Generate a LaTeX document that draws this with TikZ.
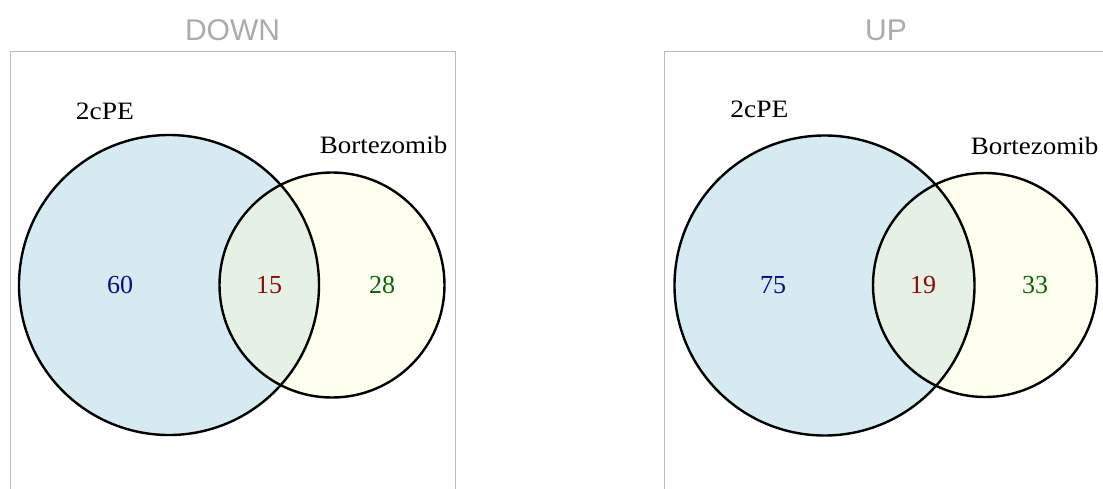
\documentclass[tikz,border=0pt]{standalone}
\usepackage{fontspec}
\setmainfont{Liberation Serif}
\newfontfamily\titlefont{Liberation Sans}
\definecolor{frame}{HTML}{BDBDBD}
\definecolor{titlegray}{HTML}{ABABAB}
\definecolor{setA}{HTML}{D6EAF1}
\definecolor{setB}{HTML}{FEFFEE}
\definecolor{setAB}{HTML}{E6F1E6}
\definecolor{numA}{HTML}{0A0A8C}
\definecolor{numAB}{HTML}{8B0A0A}
\definecolor{numB}{HTML}{0A660A}
\tikzset{
  paneltitle/.style={font=\titlefont\fontsize{30}{30}\selectfont, text=titlegray, anchor=base, inner sep=0pt},
  setlabel/.style={font=\fontsize{25}{25}\selectfont, anchor=base, inner sep=0pt},
  count/.style={font=\fontsize{26}{26}\selectfont, anchor=base, inner sep=0pt},
  panelframe/.style={draw=frame, line width=1pt},
  outline/.style={draw=black, line width=2.4pt},
}
\begin{document}
\begin{tikzpicture}[x=1pt,y=-1pt]
\useasboundingbox (0,0) rectangle (1103,488);
\clip (0,0) rectangle (1103,488);

% panel frames (open at the bottom edge)
\draw[panelframe] (10,500) -- (10,51) -- (455,51) -- (455,500);
\draw[panelframe] (664,500) -- (664,51) -- (1110,51);

\node[paneltitle] (tdown) at (232.5,40) {DOWN};
\node[paneltitle] (tup) at (886,40) {UP};

% ---- DOWN panel ----
\fill[setA] (169,285) circle[radius=150];
\fill[setB] (332,285) circle[radius=112.5];
\begin{scope}
  \clip (169,285) circle[radius=150];
  \fill[setAB] (332,285) circle[radius=112.5];
\end{scope}
\draw[outline] (169,285) circle[radius=150];
\draw[outline] (332,285) circle[radius=112.5];
\node[setlabel] (dA) at (105,119) {\scalebox{1.1}[1]{2cPE}};
\node[setlabel] (dB) at (383.5,153) {\scalebox{1.08}[1]{Bortezomib}};
\node[count, text=numA] (dnA) at (120,293) {60};
\node[count, text=numAB] (dnAB) at (269,293) {15};
\node[count, text=numB] (dnB) at (382,293) {28};

% ---- UP panel ----
\fill[setA] (824.5,285.5) circle[radius=150];
\fill[setB] (985,285) circle[radius=112];
\begin{scope}
  \clip (824.5,285.5) circle[radius=150];
  \fill[setAB] (985,285) circle[radius=112];
\end{scope}
\draw[outline] (824.5,285.5) circle[radius=150];
\draw[outline] (985,285) circle[radius=112];
\node[setlabel] (uA) at (759.5,117) {\scalebox{1.1}[1]{2cPE}};
\node[setlabel] (uB) at (1034.5,154) {\scalebox{1.08}[1]{Bortezomib}};
\node[count, text=numA] (unA) at (773,293) {75};
\node[count, text=numAB] (unAB) at (923,293) {19};
\node[count, text=numB] (unB) at (1035,293) {33};
\end{tikzpicture}
\end{document}
